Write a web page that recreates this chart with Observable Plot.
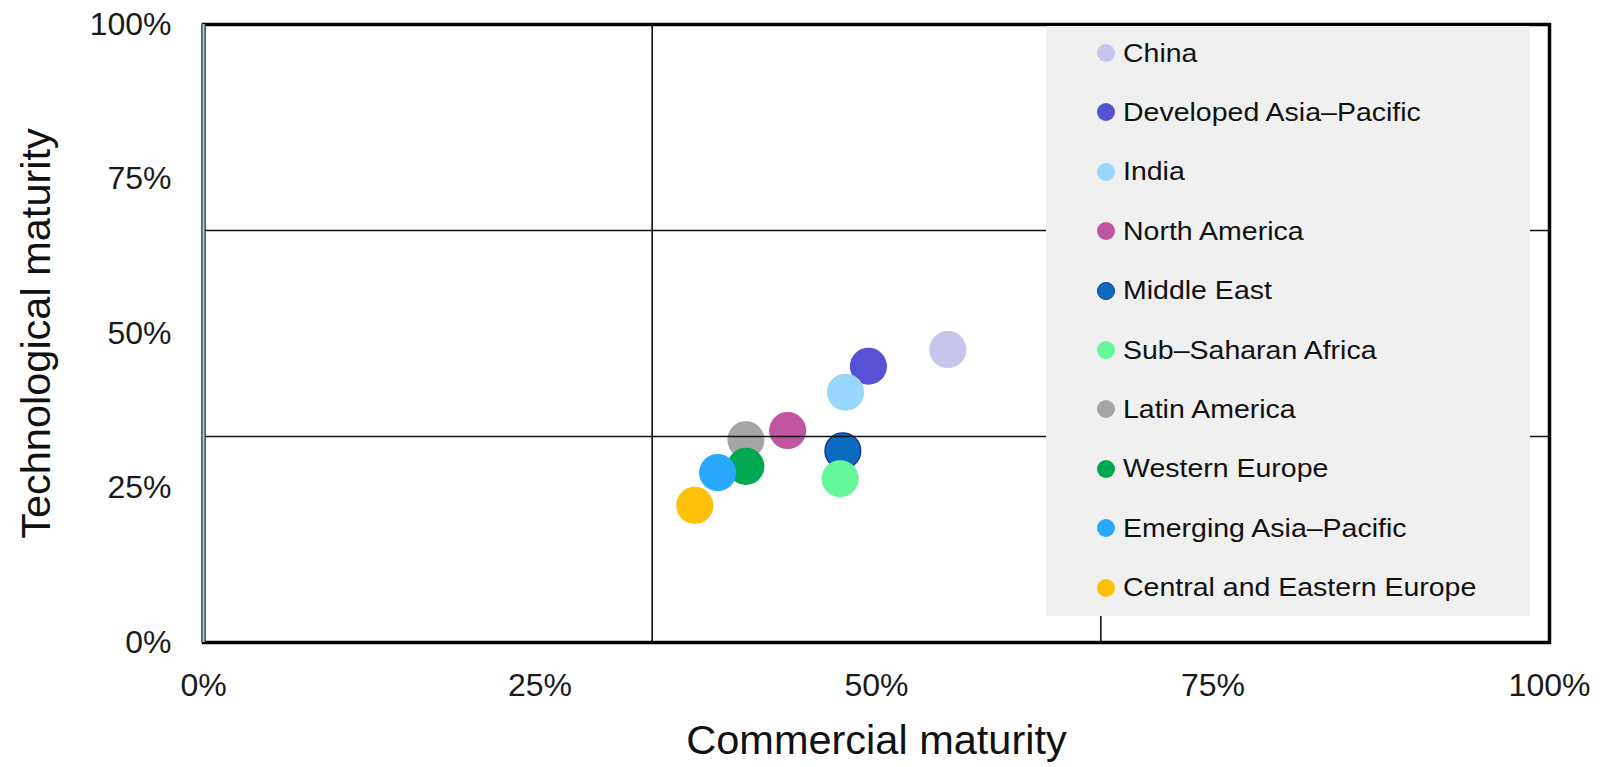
<!DOCTYPE html>
<html>
<head>
<meta charset="utf-8">
<script src="https://cdn.jsdelivr.net/npm/d3@7"></script>
<script src="https://cdn.jsdelivr.net/npm/@observablehq/plot@0.6"></script>
<style>
  html, body { margin: 0; padding: 0; background: #fff; }
  #wrap { position: relative; width: 1608px; height: 767px; font-family: "Liberation Sans", Arial, sans-serif; }
  #legend {
    position: absolute; left: 1046px; top: 26px; width: 484px; height: 590px;
    background: #f0f0f0; box-sizing: border-box;
  }
  .item { position: absolute; left: 0; height: 30px; display: flex; align-items: center; }
  .sw { position: absolute; left: 51px; width: 18px; height: 18px; border-radius: 50%; box-sizing: border-box; }
  .lab { position: absolute; left: 77px; white-space: nowrap; font-size: 28.5px; color: #111; transform-origin: left center; transform: scaleY(0.92); }
</style>
</head>
<body>
<div id="wrap"></div>
<script>
// Regional maturity scores (share of maximum)
const regions = [
  "China", "Developed Asia–Pacific", "India", "North America", "Middle East",
  "Sub–Saharan Africa", "Latin America", "Western Europe", "Emerging Asia–Pacific",
  "Central and Eastern Europe"
];
const commercial    = [0.553, 0.494, 0.477, 0.434, 0.475, 0.473, 0.403, 0.403, 0.382, 0.365];
const technological = [0.474, 0.447, 0.405, 0.343, 0.310, 0.265, 0.328, 0.285, 0.275, 0.222];
const colors = ["#c6c6ec", "#5652d4", "#97d7fb", "#c0569f", "#0b6bbf",
                "#66f79a", "#a5a5a5", "#00a84f", "#29a8ff", "#fec10a"];
// Only the Middle East bubble carries a darker rim
const outlines = [null, null, null, null, "#17398a", null, null, null, null, null];
const ticks = [0, 0.25, 0.5, 0.75, 1];
const thresholds = [1 / 3, 2 / 3];

const data = regions.map((name, i) => ({
  name, x: commercial[i], y: technological[i], color: colors[i], rim: outlines[i] || colors[i]
}));

const pct = d3.format(".0%");

const chart = Plot.plot({
  width: 1608,
  height: 767,
  marginLeft: 203,
  marginRight: 59,
  marginTop: 24,
  marginBottom: 125,
  style: { fontFamily: "'Liberation Sans', Arial, sans-serif", fontSize: "32px", color: "#1a1a1a", background: "#fff" },
  x: { domain: [0, 1], ticks, tickFormat: pct, tickSize: 0, tickPadding: 31, label: null },
  y: { domain: [0, 1], ticks, tickFormat: pct, tickSize: 0, tickPadding: 32, label: null },
  marks: [
    Plot.dot(data, { x: "x", y: "y", r: 17.8, fill: "color", stroke: "rim", strokeWidth: 1.5 }),
    Plot.ruleX(thresholds, { stroke: "#111", strokeWidth: 1.6 }),
    Plot.ruleY(thresholds, { stroke: "#111", strokeWidth: 1.6 }),
    Plot.frame({ stroke: "#000", strokeWidth: 3.5 }),
    Plot.ruleX([0], { stroke: "#2c3b45", strokeWidth: 4.5 }),
    Plot.ruleX([0], { stroke: "#a9cde2", strokeWidth: 2 }),
    Plot.text(["Commercial maturity"], {
      frameAnchor: "bottom", dy: 98, lineAnchor: "middle", textAnchor: "middle",
      fontSize: 41.5, fill: "#111"
    }),
    Plot.text(["Technological maturity"], {
      frameAnchor: "left", dx: -167, rotate: -90, lineAnchor: "middle", textAnchor: "middle",
      fontSize: 41.5, fill: "#111"
    })
  ]
});

const wrap = document.getElementById("wrap");
wrap.appendChild(chart);

// Legend panel laid over the upper-right of the plot area
const legend = document.createElement("div");
legend.id = "legend";
regions.forEach((name, i) => {
  const item = document.createElement("div");
  item.className = "item";
  item.style.top = (27 + i * 59.4 - 15) + "px";
  const sw = document.createElement("span");
  sw.className = "sw";
  sw.style.background = colors[i];
  if (outlines[i]) { sw.style.border = "1.5px solid " + outlines[i]; }
  const lab = document.createElement("span");
  lab.className = "lab";
  lab.textContent = name;
  item.appendChild(sw);
  item.appendChild(lab);
  legend.appendChild(item);
});
wrap.appendChild(legend);
</script>
</body>
</html>
